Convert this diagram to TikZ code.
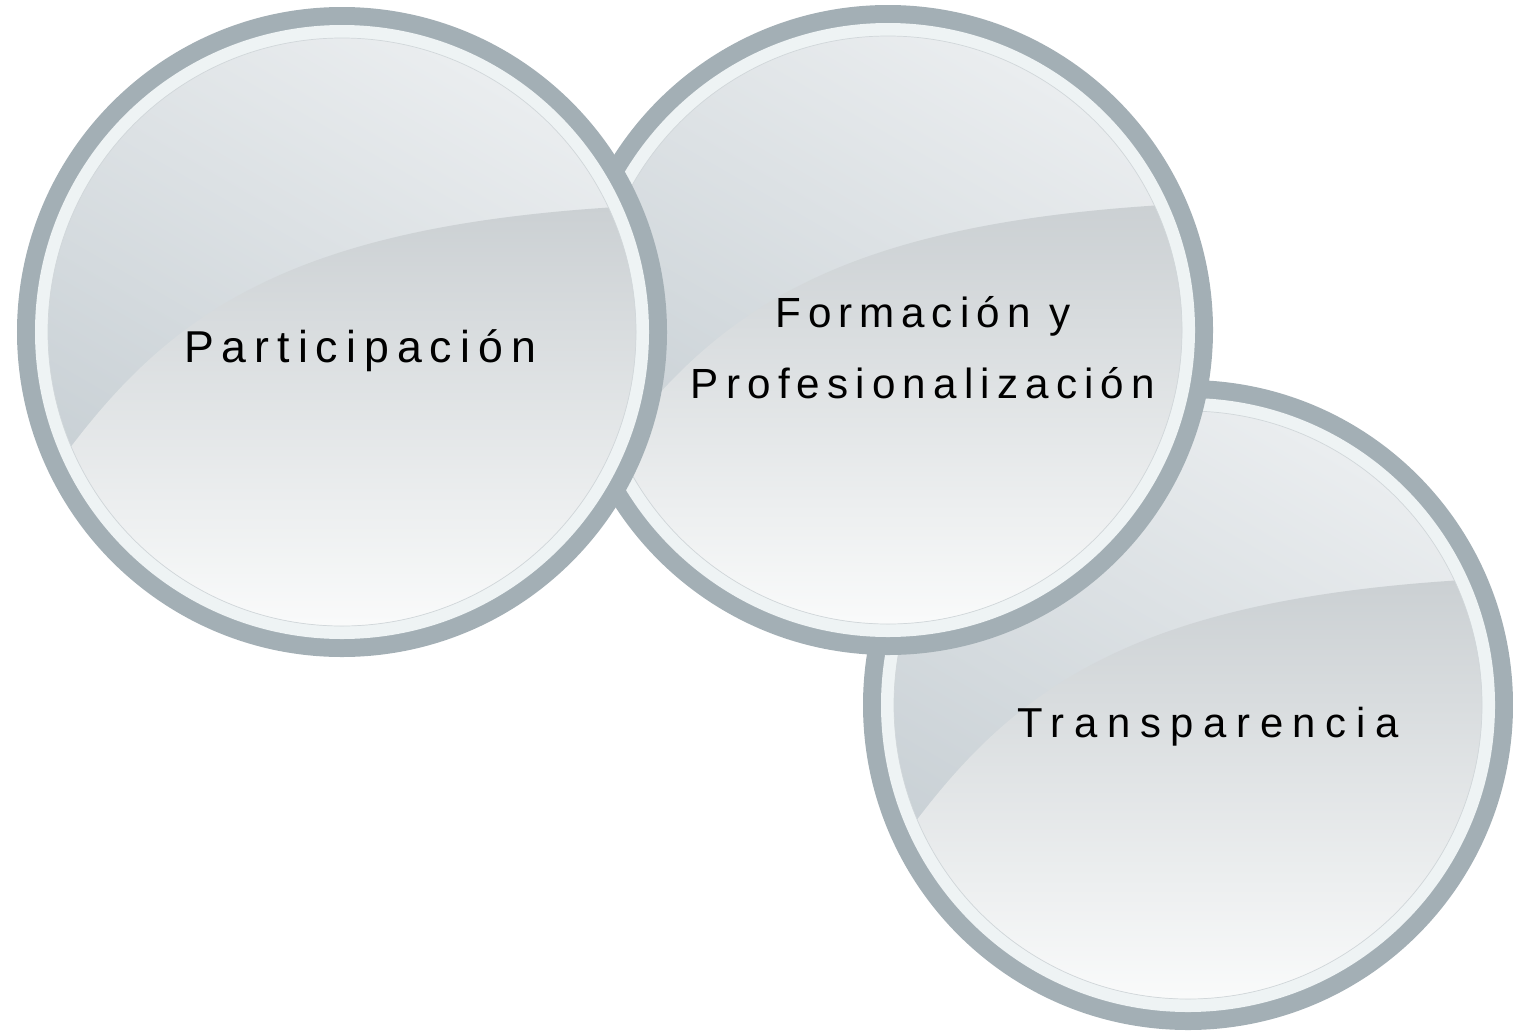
\documentclass[tikz,border=0pt]{standalone}
\usepackage{fontspec}
\setmainfont{Liberation Sans}
\usepackage{tikz}
\usetikzlibrary{positioning}

\definecolor{ringgrey}{RGB}{163,175,181}
\definecolor{ringlight}{RGB}{238,243,244}
\definecolor{upperlight}{RGB}{234,237,239}
\definecolor{upperdark}{RGB}{198,206,211}
\definecolor{glossdark}{RGB}{203,208,211}
\definecolor{glosslight}{RGB}{250,251,251}

\begin{document}
\begin{tikzpicture}[
  labeltext/.style={inner sep=0pt,anchor=base,align=center,text=black}
]
\useasboundingbox (0,0) rectangle (15.13,10.35);

% the three glass discs, back to front
\foreach \cx/\cy/\cname in {11.88/3.30/ctrans, 8.88/7.05/cform, 3.42/7.03/cpart}{
\begin{scope}[shift={(\cx,\cy)}]
\coordinate (\cname) at (0,0);
\fill[ringgrey] (0,0) circle (3.25cm);
\fill[ringlight] (0,0) circle (3.07cm);
\shade[top color=upperlight,bottom color=upperdark,shading angle=-30] (0,0) circle (2.94cm);
\begin{scope}
\clip (0,0) circle (2.94cm);
\shade[top color=glossdark,bottom color=glosslight] (-2.75,-1.2) .. controls (-1.7,0.2) and (-0.5,1.05) .. (2.75,1.25) -- (3,1.25) -- (3,-3) -- (-3,-3) -- cycle;
\end{scope}
\draw[ringgrey!50,very thin] (0,0) circle (2.94cm);
\end{scope}
}

\node[labeltext,font=\fontsize{12.7}{15}\selectfont\addfontfeatures{LetterSpace=18},xshift=1.8mm,yshift=-3mm] (tpart) at (cpart) {Participación};
\node[labeltext,font=\fontsize{12}{20.2}\selectfont\addfontfeatures{LetterSpace=17},xshift=3.5mm,yshift=-6.8mm] (tform) at (cform) {Form\hspace{0.15em}ación y\\Profesionalización};
\node[labeltext,font=\fontsize{11.9}{15}\selectfont\addfontfeatures{LetterSpace=23},xshift=2.0mm,yshift=-3.2mm] (ttrans) at (ctrans) {Transparencia};
\end{tikzpicture}
\end{document}
